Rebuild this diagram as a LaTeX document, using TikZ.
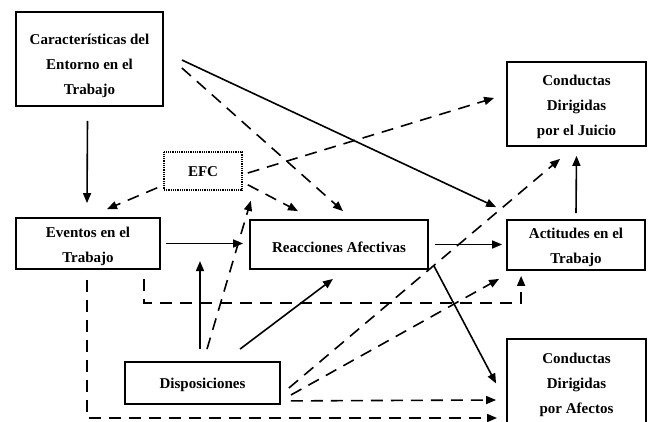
\documentclass[tikz,border=0pt]{standalone}
\usepackage{fontspec}
\setmainfont{Liberation Serif}
\usetikzlibrary{arrows.meta}
\begin{document}
\begin{tikzpicture}[x=1pt,y=1pt,
  txt/.style={inner sep=0pt,align=center,font=\fontsize{15}{25}\selectfont\bfseries},
  box/.style={draw,line width=1.8pt,inner sep=0pt},
  dotbox/.style={draw,line width=1.6pt,dash pattern=on 1pt off 0.8pt,inner sep=0pt},
  arr/.style={line width=1.6pt,-{Triangle[length=10pt,width=8pt]}},
  darr/.style={arr,dash pattern=on 12pt off 8pt}]
\useasboundingbox (0,0) rectangle (651,421);
\node[box,minimum width=147pt,minimum height=94pt,label={[txt,yshift=-7pt]center:Características del\\Entorno en el\\Trabajo}] (car) at (89.5,362) {};
\node[box,minimum width=139pt,minimum height=84pt,label={[txt,yshift=-3pt]center:Conductas\\Dirigidas\\por el Juicio}] (cjui) at (576.5,317) {};
\node[dotbox,minimum width=78pt,minimum height=38pt,label={[txt,yshift=-1pt]center:EFC}] (efc) at (203,250) {};
\node[box,minimum width=144pt,minimum height=51pt,label={[txt,yshift=-3pt]center:Eventos en el\\Trabajo}] (eve) at (88,177.5) {};
\node[box,minimum width=178pt,minimum height=49pt,label={[txt,yshift=-3pt]center:Reacciones Afectivas}] (rea) at (339,176.5) {};
\node[box,minimum width=138pt,minimum height=50pt,label={[txt,yshift=-2pt]center:Actitudes en el\\Trabajo}] (act) at (576,176) {};
\node[box,minimum width=139pt,minimum height=89pt,label={[txt,yshift=-1pt]center:Conductas\\Dirigidas\\por Afectos}] (caf) at (576.5,37.5) {};
\node[box,minimum width=155pt,minimum height=42pt,label={[txt,yshift=-2pt]center:Disposiciones}] (dis) at (202.5,38) {};
% solid connectors
\draw[arr] ([xshift=-2pt,yshift=-14pt]car.south) -- ([xshift=-1pt,yshift=14pt]eve.north);
\draw[arr] ([xshift=18pt,yshift=-1pt]car.east) -- ([xshift=-10pt,yshift=12pt]act.north west);
\draw[arr] ([xshift=5pt]eve.east) -- ([xshift=-6pt,yshift=1pt]rea.west);
\draw[arr] ([xshift=6pt]rea.east) -- ([xshift=-4pt,yshift=0.5pt]act.west);
\draw[arr] ([xshift=5pt,yshift=4pt]rea.south east) -- ([xshift=-10pt]caf.west);
\draw[arr] ([yshift=6pt]act.north) -- ([yshift=-9pt]cjui.south);
\draw[arr] ([xshift=-2.5pt,yshift=12pt]dis.north) -- ([xshift=-2.5pt,yshift=100pt]dis.north);
\draw[arr] ([xshift=37.5pt,yshift=12pt]dis.north) -- ([xshift=-6pt,yshift=-9pt]rea.south);
% dashed connectors
\draw[darr] ([xshift=18pt,yshift=-9pt]car.east) -- ([xshift=4pt,yshift=8pt]rea.north);
\draw[darr] ([xshift=-6pt,yshift=3pt]efc.south west) -- ([xshift=19pt,yshift=8pt]eve.north);
\draw[darr] ([xshift=5pt,yshift=-2pt]efc.east) -- ([xshift=-12pt,yshift=6pt]cjui.west);
\draw[darr] ([xshift=5pt,yshift=6pt]efc.south east) -- ([xshift=-41pt,yshift=8pt]rea.north);
\draw[darr] ([xshift=4.5pt,yshift=12pt]dis.north) -- ([xshift=8pt,yshift=-10pt]efc.south east);
\draw[darr] ([xshift=8pt,yshift=-5pt]dis.east) -- ([xshift=-16.5pt,yshift=-12pt]cjui.south);
\draw[darr] ([xshift=10pt,yshift=-12pt]dis.east) -- ([xshift=-7pt,yshift=-8pt]act.south west);
\draw[darr] ([xshift=10pt,yshift=4pt]dis.south east) -- ([xshift=-10pt,yshift=-16.5pt]caf.west);
\draw[darr] ([xshift=-17pt,yshift=-9pt]eve.south east) |- ([xshift=15pt,yshift=-32pt]act.south west) -- ([xshift=15pt,yshift=-5pt]act.south west);
\draw[darr] ([xshift=-1pt,yshift=-10pt]eve.south) |- ([xshift=-9pt,yshift=-34.5pt]caf.west);
\end{tikzpicture}
\end{document}
